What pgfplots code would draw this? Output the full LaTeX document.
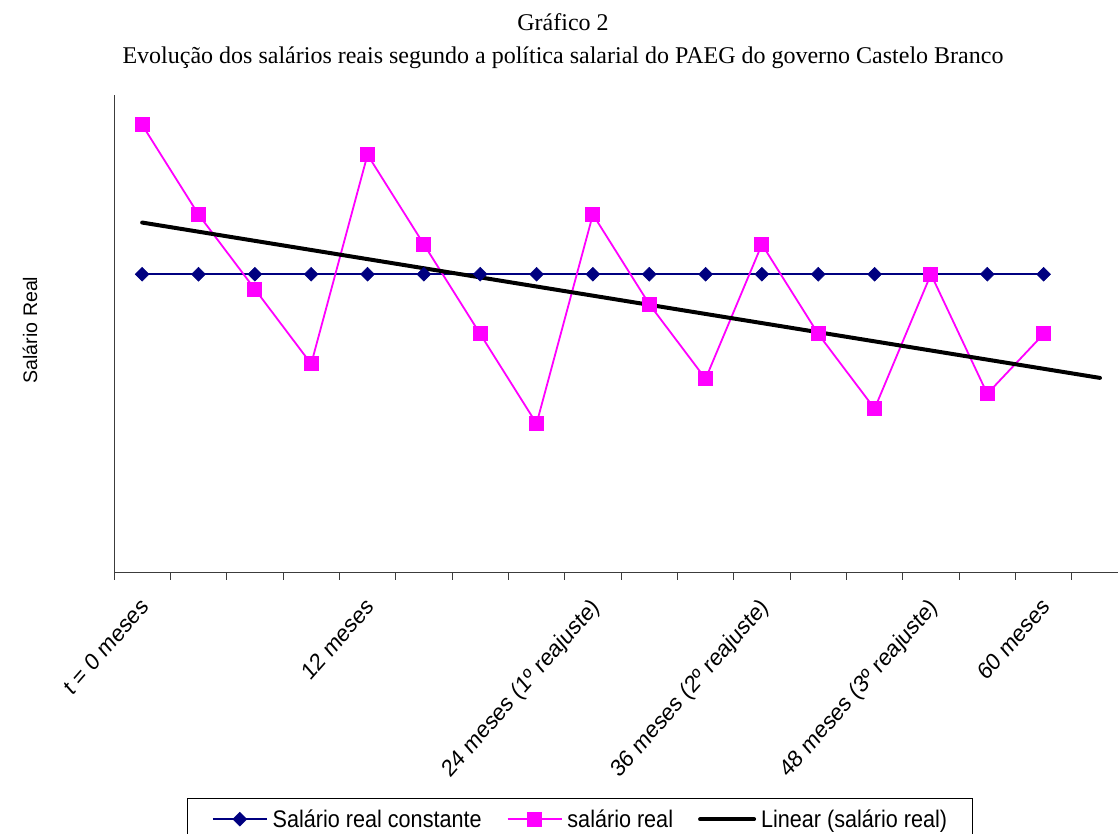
\documentclass[border=0pt]{standalone}
\usepackage{fontspec}
\setmainfont{Liberation Sans}
\newfontfamily\titlefont{Liberation Serif}
\newfontfamily\legendfont[FakeStretch=0.9]{Liberation Sans}
\usepackage{pgfplots}
\pgfplotsset{compat=1.18}
\definecolor{navyblue}{RGB}{0,0,128}
\definecolor{pinkm}{RGB}{255,0,255}
\definecolor{axisgray}{RGB}{60,60,60}

\begin{document}
\begin{tikzpicture}[x=1pt,y=1pt]
  \useasboundingbox (0,0) rectangle (1118,834);

  % titles
  \node[font=\titlefont\fontsize{24}{28}\selectfont] at (563,812) {Gráfico 2};
  \node[font=\titlefont\fontsize{24}{28}\selectfont] at (563,776)
    {Evolução dos salários reais segundo a política salarial do PAEG do governo Castelo Branco};
  \node[rotate=90, font=\fontsize{19.6}{23}\selectfont] at (30,504) {Salário Real};

  \begin{axis}[
      at={(114pt,261pt)}, anchor=south west,
      scale only axis,
      width=1004pt, height=478pt,
      xmin=-0.5, xmax=17.32,
      ymin=0, ymax=160,
      axis x line*=bottom,
      axis y line*=left,
      axis line style={draw=axisgray, line width=1pt},
      ytick=\empty,
      xtick={-0.5,0.5,...,16.5},
      xticklabels={},
      tick align=outside,
      major tick length=7pt,
      tick style={draw=axisgray, line width=1pt},
      extra x ticks={0,4,8,11,14,16},
      extra x tick labels={t = 0 meses,12 meses,24 meses (1º reajuste),36 meses (2º reajuste),48 meses (3º reajuste),60 meses},
      extra x tick style={major tick length=0pt},
      xticklabel style={font=\fontsize{24}{28}\selectfont, anchor=east,
                        inner sep=0pt, text height=17pt, text depth=5pt,
                        xshift=4pt, yshift=-31pt, xscale=0.88, rotate=45},
      clip=false,
      legend columns=3,
      legend style={at={(0.4637,-0.4707)}, anchor=north,
                    draw=black,
                    font=\legendfont\fontsize{24}{28}\selectfont,
                    inner xsep=25pt, inner ysep=8pt,
                    nodes={inner sep=0pt, text height=21pt, text depth=5pt},
                    /tikz/every odd column/.append style={column sep=5pt},
                    /tikz/every even column/.append style={column sep=25pt}},
      legend cell align=left,
      legend image code/.code={
        \draw[mark repeat=2, mark phase=2] plot coordinates {(0pt,0pt) (27pt,0pt) (54pt,0pt)};
      },
    ]

    \addplot[navyblue, line width=1.8pt, mark=square*,
             mark size=4.9pt, mark options={rotate=45, solid, fill=navyblue, draw=navyblue, line width=0.5pt}]
      coordinates {
        (0,100) (1,100) (2,100) (3,100) (4,100) (5,100) (6,100) (7,100) (8,100)
        (9,100) (10,100) (11,100) (12,100) (13,100) (14,100) (15,100) (16,100)
      };
    \addlegendentry{Salário real constante}

    \addplot[pinkm, line width=1.8pt, mark=square*,
             mark size=7pt, mark options={solid, fill=pinkm, draw=pinkm, line width=1pt}]
      coordinates {
        (0,150) (1,120) (2,95) (3,70) (4,140) (5,110) (6,80) (7,50) (8,120)
        (9,90) (10,65) (11,110) (12,80) (13,55) (14,100) (15,60) (16,80)
      };
    \addlegendentry{salário real}

    \addplot[black, line width=4pt, line cap=round]
      coordinates {(0,117.3) (17,65.3)};
    \addlegendentry{Linear (salário real)}

  \end{axis}
\end{tikzpicture}
\end{document}
